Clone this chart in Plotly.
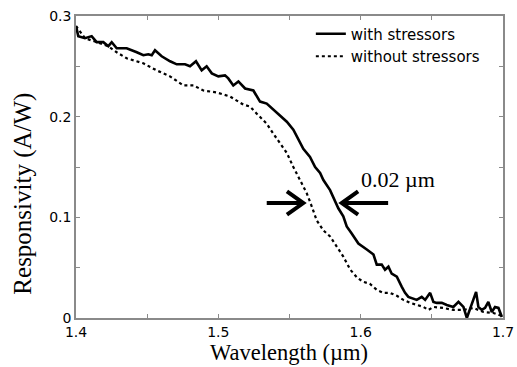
import plotly.graph_objects as go

# ---- data ----
with_x = [1.4000, 1.4016, 1.4063, 1.4110, 1.4145, 1.4192, 1.4227, 1.4251, 1.4286, 1.4356,
          1.4427, 1.4473, 1.4508, 1.4532, 1.4555, 1.4602, 1.4661, 1.4708, 1.4766, 1.4801,
          1.4843, 1.4883, 1.4918, 1.4954, 1.5000, 1.5047, 1.5070, 1.5105, 1.5141, 1.5188,
          1.5246, 1.5293, 1.5340, 1.5387, 1.5434, 1.5481, 1.5527, 1.5562, 1.5597, 1.5644,
          1.5680, 1.5715, 1.5738, 1.5785, 1.5809, 1.5843, 1.5878, 1.5902, 1.5937, 1.5984,
          1.6043, 1.6078, 1.6090, 1.6113, 1.6148, 1.6171, 1.6195, 1.6218, 1.6254, 1.6289,
          1.6312, 1.6335, 1.6359, 1.6394, 1.6429, 1.6453, 1.6488, 1.6511, 1.6535, 1.6570,
          1.6605, 1.6651, 1.6687, 1.6722, 1.6746, 1.6769, 1.6792, 1.6811, 1.6827, 1.6851,
          1.6874, 1.6897, 1.6921, 1.6944, 1.6968, 1.6992]
with_y = [0.290, 0.280, 0.278, 0.280, 0.274, 0.274, 0.270, 0.274, 0.268, 0.268,
          0.264, 0.261, 0.262, 0.261, 0.266, 0.260, 0.255, 0.252, 0.252, 0.250,
          0.255, 0.246, 0.250, 0.243, 0.240, 0.241, 0.238, 0.231, 0.235, 0.228,
          0.226, 0.215, 0.213, 0.207, 0.200, 0.195, 0.187, 0.178, 0.168, 0.160,
          0.150, 0.144, 0.137, 0.127, 0.119, 0.109, 0.101, 0.091, 0.084, 0.074,
          0.068, 0.064, 0.063, 0.053, 0.053, 0.048, 0.051, 0.044, 0.041, 0.031,
          0.025, 0.021, 0.020, 0.018, 0.021, 0.018, 0.025, 0.016, 0.015, 0.015,
          0.013, 0.011, 0.016, 0.011, 0.000, 0.010, 0.018, 0.026, 0.011, 0.008,
          0.010, 0.016, 0.006, 0.011, 0.010, 0.001]

without_x = [1.4000, 1.4063, 1.4145, 1.4227, 1.4286, 1.4356, 1.4473, 1.4566, 1.4661, 1.4755,
             1.4825, 1.4895, 1.4989, 1.5082, 1.5176, 1.5223, 1.5270, 1.5340, 1.5387, 1.5434,
             1.5481, 1.5527, 1.5574, 1.5621, 1.5656, 1.5691, 1.5738, 1.5785, 1.5832, 1.5878,
             1.5927, 1.5976, 1.6018, 1.6064, 1.6113, 1.6160, 1.6206, 1.6254, 1.6300, 1.6347,
             1.6394, 1.6441, 1.6476, 1.6511, 1.6581, 1.6651, 1.6722, 1.6792, 1.6862, 1.6933,
             1.6992]
without_y = [0.290, 0.278, 0.274, 0.270, 0.264, 0.258, 0.253, 0.246, 0.240, 0.231,
             0.231, 0.226, 0.224, 0.220, 0.212, 0.210, 0.203, 0.193, 0.183, 0.174,
             0.164, 0.150, 0.137, 0.124, 0.111, 0.097, 0.087, 0.081, 0.071, 0.061,
             0.048, 0.040, 0.036, 0.034, 0.028, 0.025, 0.025, 0.022, 0.018, 0.015,
             0.013, 0.011, 0.008, 0.011, 0.010, 0.008, 0.008, 0.010, 0.006, 0.005,
             0.002]

series_names = ["with stressors", "without stressors"]

x_tickvals = [1.4, 1.45, 1.5, 1.55, 1.6, 1.65, 1.7]
x_ticktext = ["1.4", "", "1.5", "", "1.6", "", "1.7"]
y_tickvals = [0, 0.05, 0.1, 0.15, 0.2, 0.25, 0.3]
y_ticktext = ["0", "", "0.1", "", "0.2", "", "0.3"]

x_title = "Wavelength (\u00b5m)"
y_title = "Responsivity (A/W)"
shift_label = "0.02 \u00b5m"
shift_label_pos = [1.6263, 0.138]

# arrows marking the shift (tip x, tail x) at a common height
arrow_y = 0.1142
left_arrow = [1.5597, 1.5340]
right_arrow = [1.5867, 1.6193]
head_dx, head_dy = 0.0115, 0.0116

# ---- figure ----
fig = go.Figure()
fig.add_trace(go.Scatter(x=with_x, y=with_y, mode="lines", name=series_names[0],
                         line=dict(color="black", width=2.6)))
fig.add_trace(go.Scatter(x=without_x, y=without_y, mode="lines", name=series_names[1],
                         line=dict(color="black", width=2.2, dash="dot")))

def arrow_path(tip, tail, y):
    s = 1 if tail < tip else -1
    return (f"M{tail},{y} L{tip},{y} "
            f"M{tip - s*head_dx},{y + head_dy} L{tip},{y} L{tip - s*head_dx},{y - head_dy}")

for tip, tail in (left_arrow, right_arrow):
    fig.add_shape(type="path", path=arrow_path(tip, tail, arrow_y), xref="x", yref="y",
                  line=dict(color="black", width=4))

fig.add_annotation(x=shift_label_pos[0], y=shift_label_pos[1], text=shift_label,
                   showarrow=False, xanchor="center", yanchor="middle",
                   font=dict(family="Liberation Serif", size=22, color="black"))

# axis titles placed as in the reference
fig.add_annotation(x=-0.124, y=0.412, xref="paper", yref="paper", text=y_title,
                   textangle=-90, showarrow=False, xanchor="center", yanchor="middle",
                   font=dict(family="Liberation Serif", size=25, color="black"))
fig.add_annotation(x=0.499, y=-0.113, xref="paper", yref="paper", text=x_title,
                   showarrow=False, xanchor="center", yanchor="middle",
                   font=dict(family="Liberation Serif", size=22.5, color="black"))

axis_common = dict(showline=True, linecolor="#8a8a8a", linewidth=1.5, mirror="ticks",
                   ticks="inside", ticklen=4, tickwidth=1, tickcolor="#8a8a8a",
                   showgrid=False, zeroline=False,
                   tickfont=dict(family="DejaVu Sans", size=14, color="black"))

fig.update_xaxes(range=[1.4, 1.7], tickmode="array", tickvals=x_tickvals, ticktext=x_ticktext,
                 **axis_common)
fig.update_yaxes(range=[0, 0.3], tickmode="array", tickvals=y_tickvals, ticktext=y_ticktext,
                 **axis_common)

fig.update_layout(
    width=517, height=367,
    margin=dict(l=76, r=14, t=16, b=49, autoexpand=False),
    paper_bgcolor="white", plot_bgcolor="white",
    showlegend=True,
    legend=dict(x=0.55, y=0.995, xanchor="left", yanchor="top", bgcolor="rgba(0,0,0,0)",
                font=dict(family="DejaVu Sans", size=15, color="black"),
                tracegroupgap=0, itemwidth=30),
)

fig.write_html("out.html")
